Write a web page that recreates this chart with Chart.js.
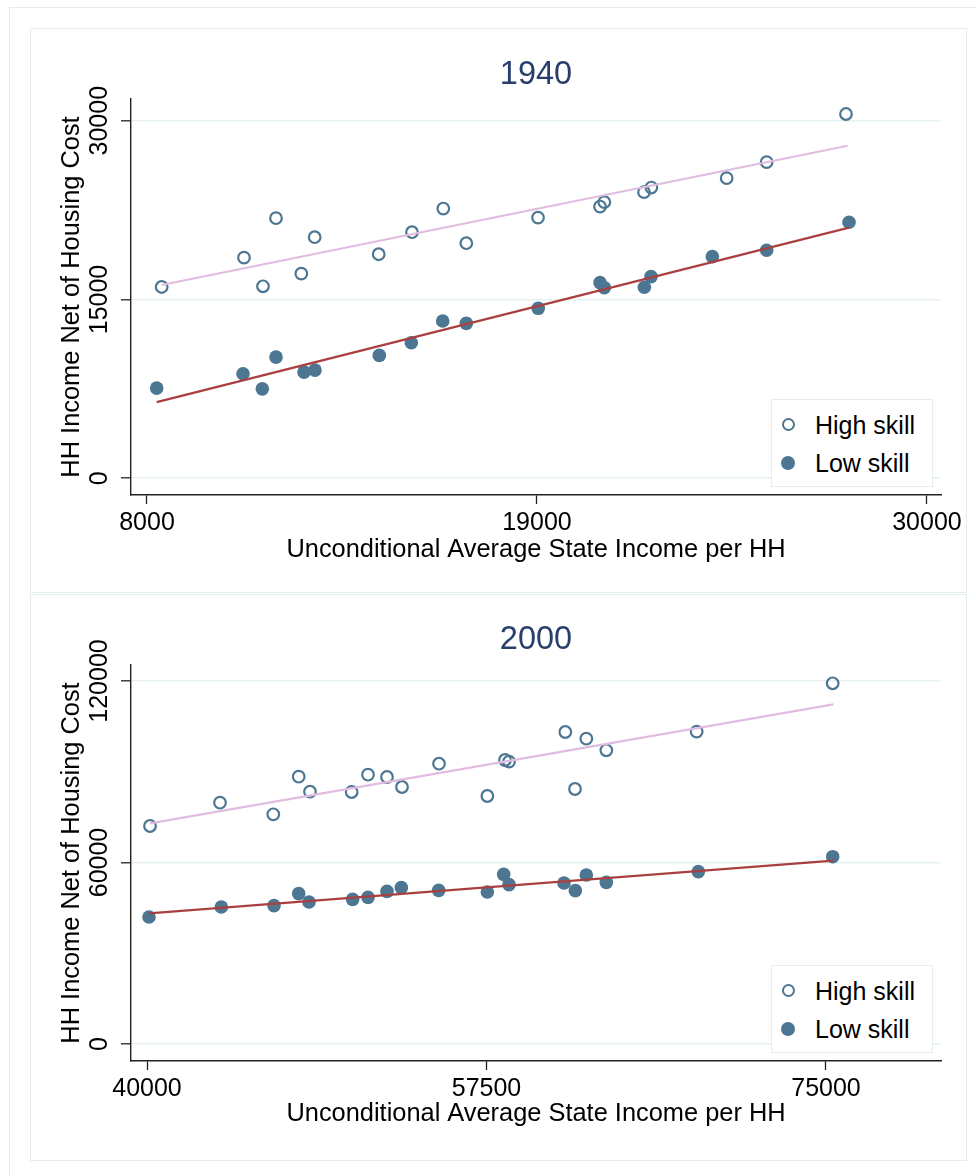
<!DOCTYPE html>
<html>
<head>
<meta charset="utf-8">
<script src="https://cdn.jsdelivr.net/npm/chart.js@4.4.1/dist/chart.umd.min.js"></script>
<style>
  html, body { margin:0; padding:0; background:#fff; }
  body { width:976px; height:1176px; position:relative; overflow:hidden; font-family:'Liberation Sans', Arial, sans-serif; }
  .box { position:absolute; border:1px solid #e4eef0; box-sizing:border-box; }
  canvas { position:absolute; left:0; }
  .legend { position:absolute; background:#fff; border:1px solid #e4eef0; box-sizing:border-box; width:162px; height:88px; }
  .item { position:absolute; left:0; width:160px; height:30px; }
  .mk { position:absolute; box-sizing:border-box; border-radius:50%; }
  .mk.hollow { width:13px; height:13px; border:2px solid #4c7691; background:#fff; left:10px; top:8px; }
  .mk.solid { width:14px; height:14px; background:#4c7691; left:9px; top:8px; }
  .lt { position:absolute; left:43px; top:0; line-height:30px; font-size:25px; color:#000; white-space:nowrap; }
</style>
</head>
<body>
<div class="box" style="left:9px;top:7px;width:980px;height:1200px;"></div>
<div class="box" style="left:30px;top:28px;width:937px;height:565px;"></div>
<div class="box" style="left:30px;top:594px;width:937px;height:567px;"></div>
<canvas id="c1" width="976" height="594" style="top:0px;"></canvas>
<canvas id="c2" width="976" height="582" style="top:594px;"></canvas>

<div class="legend" style="left:771px;top:399px;">
  <div class="item" style="top:10px;"><div class="mk hollow"></div><div class="lt" id="l1a"></div></div>
  <div class="item" style="top:48px;"><div class="mk solid"></div><div class="lt" id="l1b"></div></div>
</div>
<div class="legend" style="left:771px;top:965px;">
  <div class="item" style="top:10px;"><div class="mk hollow"></div><div class="lt" id="l2a"></div></div>
  <div class="item" style="top:48px;"><div class="mk solid"></div><div class="lt" id="l2b"></div></div>
</div>

<script>
// ---------- DATA ----------
const seriesNames = ['High skill', 'Low skill'];
const panelTitles = ['1940', '2000'];
const xAxisTitle = 'Unconditional Average State Income per HH';
const yAxisTitle = 'HH Income Net of Housing Cost';

// 1940 panel
const xTicks1940 = [8000, 19000, 30000];
const yTicks1940 = [0, 15000, 30000];
const high1940X = [8414, 10736, 11272, 11639, 12353, 12730, 14536, 15475, 16358, 17007, 19030, 20779, 20900, 22020, 22226, 24351, 25479, 27717];
const high1940Y = [16050, 18513, 16109, 21823, 17168, 20227, 18798, 20647, 22630, 19723, 21874, 22798, 23168, 24008, 24395, 25185, 26529, 30563];
const low1940X  = [8273, 10708, 11253, 11639, 12429, 12739, 14553, 15456, 16341, 17007, 19036, 20779, 20900, 22029, 22217, 23947, 25479, 27802];
const low1940Y  = [7563, 8765, 7504, 10168, 8908, 9076, 10311, 11370, 13193, 13000, 14260, 16412, 15992, 16025, 16916, 18597, 19134, 21487];
const fitHigh1940X = [8414, 27766];
const fitHigh1940Y = [16218, 27899];
const fitLow1940X  = [8273, 27802];
const fitLow1940Y  = [6387, 21034];

// 2000 panel
const xTicks2000 = [40000, 57500, 75000];
const yTicks2000 = [0, 60000, 120000];
const high2000X = [40155, 43763, 46510, 47820, 48402, 50550, 51392, 52371, 53144, 55052, 57544, 58454, 58660, 61562, 62062, 62646, 63676, 68333, 75345];
const high2000Y = [72066, 79770, 75933, 88364, 83405, 83306, 89030, 88264, 84959, 92661, 81983, 93884, 93333, 103140, 84298, 100926, 97096, 103248, 119240];
const low2000X  = [40103, 43830, 46546, 47820, 48351, 50600, 51392, 52371, 53110, 55034, 57544, 58386, 58660, 61495, 62079, 62646, 63676, 68419, 75345];
const low2000Y  = [41983, 45289, 45730, 49697, 46942, 47823, 48485, 50468, 51680, 50799, 50248, 56088, 52672, 53223, 50689, 55868, 53444, 56970, 61924];
const fitHigh2000X = [40155, 75380];
const fitHigh2000Y = [72950, 112300];
const fitLow2000X  = [40103, 75380];
const fitLow2000Y  = [43200, 60600];

// ---------- STYLE ----------
const FONT = "'Liberation Sans', Arial, Helvetica, sans-serif";
const MARKER = '#4c7691';
const FIT_HIGH = '#e0bde0';
const FIT_LOW = '#a9403f';
const TITLE_COLOR = '#283f6b';
const GRID = '#e8f1f2';
const AXIS = '#222222';
const TICK_SIZE = 25, AXTITLE_SIZE = 25.4, TITLE_SIZE = 32.5;

document.getElementById('l1a').textContent = seriesNames[0];
document.getElementById('l1b').textContent = seriesNames[1];
document.getElementById('l2a').textContent = seriesNames[0];
document.getElementById('l2b').textContent = seriesNames[1];

function pts(xs, ys) { return xs.map((x, i) => ({ x: x, y: ys[i] })); }

function measureWidest(labels, size) {
  const ctx = document.createElement('canvas').getContext('2d');
  ctx.font = size + 'px ' + FONT;
  return Math.max.apply(null, labels.map(t => ctx.measureText(t).width));
}

function makePanel(id, d, g) {
  const widest = measureWidest(d.yTicks.map(String), TICK_SIZE);
  const W = 976, left = 131, right = 941;
  return new Chart(document.getElementById(id), {
    type: 'scatter',
    data: {
      datasets: [
        { label: 'fitLow', data: pts(d.fitLowX, d.fitLowY), showLine: true, borderColor: FIT_LOW, borderWidth: 2.2, pointRadius: 0, fill: false },
        { label: 'fitHigh', data: pts(d.fitHighX, d.fitHighY), showLine: true, borderColor: FIT_HIGH, borderWidth: 2.2, pointRadius: 0, fill: false },
        { label: seriesNames[1], data: pts(d.lowX, d.lowY), pointStyle: 'circle', pointRadius: 6.8, backgroundColor: MARKER, borderColor: MARKER, borderWidth: 0 },
        { label: seriesNames[0], data: pts(d.highX, d.highY), pointStyle: 'circle', pointRadius: 5.8, backgroundColor: 'rgba(255,255,255,0)', borderColor: MARKER, borderWidth: 2.2 }
      ]
    },
    options: {
      responsive: false,
      animation: false,
      devicePixelRatio: 1,
      events: [],
      layout: { padding: { left: 0, right: W - right, top: 0, bottom: 0 } },
      plugins: {
        legend: { display: false },
        tooltip: { enabled: false },
        title: {
          display: true, text: d.title, fullSize: false, color: TITLE_COLOR,
          font: { family: FONT, size: TITLE_SIZE, weight: 'normal' },
          padding: { top: g.titleCenter - 0.6 * TITLE_SIZE, bottom: g.chartTop - g.titleCenter - 0.6 * TITLE_SIZE }
        }
      },
      scales: {
        x: {
          type: 'linear', position: 'bottom', min: d.xMin, max: d.xMax,
          afterBuildTicks: s => { s.ticks = d.xTicks.map(v => ({ value: v })); },
          afterFit: s => { s.height = g.h - g.chartBottom; },
          ticks: { callback: v => String(v), color: '#000', font: { family: FONT, size: TICK_SIZE }, padding: 27.8 - 9 - 0.6 * TICK_SIZE, autoSkip: false, maxRotation: 0, minRotation: 0 },
          grid: { drawOnChartArea: false, drawTicks: true, tickLength: 9, tickColor: AXIS, tickWidth: 1.3 },
          border: { display: true, color: AXIS, width: 1.4 },
          title: { display: true, text: xAxisTitle, color: '#000', font: { family: FONT, size: AXTITLE_SIZE }, padding: { top: 0, bottom: g.h - g.xTitleCenter - 0.6 * AXTITLE_SIZE } }
        },
        y: {
          type: 'linear', position: 'left', min: d.yMin, max: d.yMax,
          afterBuildTicks: s => { s.ticks = d.yTicks.map(v => ({ value: v })); },
          afterFit: s => { s.width = left; },
          ticks: { callback: v => String(v), color: '#000', font: { family: FONT, size: TICK_SIZE }, minRotation: 90, maxRotation: 90, crossAlign: 'center', padding: 21 - widest / 2, autoSkip: false },
          grid: { drawOnChartArea: true, color: GRID, lineWidth: 1.6, drawTicks: true, tickLength: 10, tickColor: AXIS, tickWidth: 1.3 },
          border: { display: true, color: AXIS, width: 1.4 },
          title: { display: true, text: yAxisTitle, color: '#000', font: { family: FONT, size: AXTITLE_SIZE }, padding: { top: 72 - 0.6 * AXTITLE_SIZE, bottom: 0 } }
        }
      }
    }
  });
}

makePanel('c1', {
  title: panelTitles[0], xTicks: xTicks1940, yTicks: yTicks1940,
  xMin: 7549, xMax: 30397, yMin: -1403, yMax: 31823,
  highX: high1940X, highY: high1940Y, lowX: low1940X, lowY: low1940Y,
  fitHighX: fitHigh1940X, fitHighY: fitHigh1940Y, fitLowX: fitLow1940X, fitLowY: fitLow1940Y
}, { h: 594, chartTop: 99, chartBottom: 495, titleCenter: 75, xTitleCenter: 550 });

makePanel('c2', {
  title: panelTitles[1], xTicks: xTicks2000, yTicks: yTicks2000,
  xMin: 39175, xMax: 80928, yMin: -5620, yMax: 125289,
  highX: high2000X, highY: high2000Y, lowX: low2000X, lowY: low2000Y,
  fitHighX: fitHigh2000X, fitHighY: fitHigh2000Y, fitLowX: fitLow2000X, fitLowY: fitLow2000Y
}, { h: 582, chartTop: 71, chartBottom: 467, titleCenter: 46, xTitleCenter: 520 });
</script>
</body>
</html>
